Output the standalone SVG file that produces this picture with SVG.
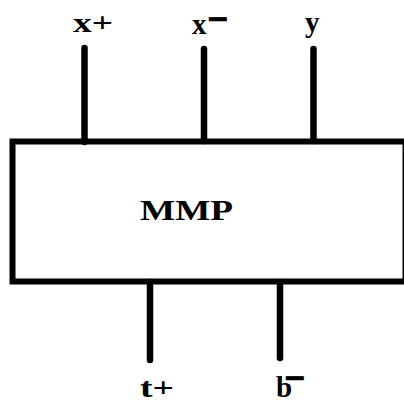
<svg xmlns="http://www.w3.org/2000/svg" width="404" height="403" viewBox="0 0 404 403">
<style>
.lbl{font-family:"Liberation Serif","Times New Roman",serif;font-weight:bold;fill:#000}
.mn{font-family:"Liberation Sans",Arial,sans-serif;font-weight:bold;fill:#000;stroke:#000;stroke-width:0.8;font-size:30px}
.wire{stroke:#000;stroke-width:6.5;stroke-linecap:round;fill:none}
</style>
<rect width="404" height="403" fill="#fff"/>
<g id="connectors">
<line class="wire" x1="84.5" y1="48" x2="84.5" y2="142"/>
<line class="wire" x1="204" y1="49" x2="204" y2="141"/>
<line class="wire" x1="313.5" y1="49" x2="313.5" y2="141"/>
<line class="wire" x1="150" y1="282" x2="150" y2="360"/>
<line class="wire" x1="280" y1="282" x2="280" y2="358"/>
</g>
<g id="mmp">
<rect x="12.5" y="141.5" width="393" height="140" fill="none" stroke="#000" stroke-width="6"/>
<text class="lbl" x="140" y="220" font-size="30" textLength="93" lengthAdjust="spacingAndGlyphs">MMP</text>
</g>
<g id="port-xplus"><text class="lbl" x="73" y="32" font-size="28" textLength="40" lengthAdjust="spacingAndGlyphs">x+</text></g>
<g id="port-xminus"><text class="lbl" x="192" y="34" font-size="29">x</text><text class="mn" x="208" y="29" textLength="20" lengthAdjust="spacingAndGlyphs">−</text></g>
<g id="port-y"><text class="lbl" x="305" y="32" font-size="29">y</text></g>
<g id="port-tplus"><text class="lbl" x="140" y="397" font-size="28" textLength="34" lengthAdjust="spacingAndGlyphs">t+</text></g>
<g id="port-bminus"><text class="lbl" x="276" y="397" font-size="29">b</text><text class="mn" x="285" y="388" textLength="20" lengthAdjust="spacingAndGlyphs">−</text></g>
</svg>
